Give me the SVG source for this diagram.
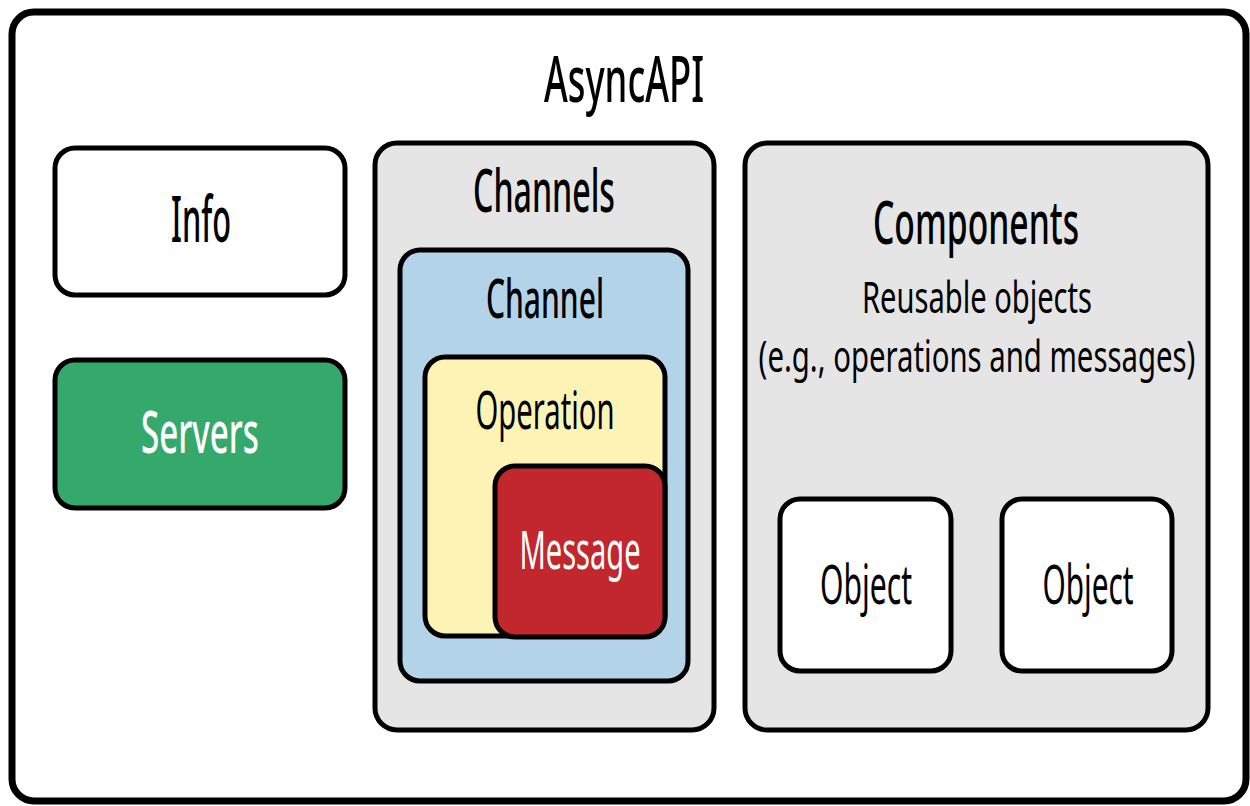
<svg xmlns="http://www.w3.org/2000/svg" width="1250" height="806" viewBox="0 0 1250 806">
<style>
.box{stroke:#000;stroke-width:5}
.t{font-family:"Noto Sans","Liberation Sans",sans-serif;text-anchor:middle;fill:#000}
.b{font-weight:500}
.w{fill:#fff}
</style>
<rect width="1250" height="806" fill="#fff"/>
<g id="asyncapi">
<rect x="12" y="12" width="1234" height="789" rx="22" fill="#fff" stroke="#000" stroke-width="7"/>
<text class="t b" x="624" y="102" font-size="64" textLength="160" lengthAdjust="spacingAndGlyphs">AsyncAPI</text>
</g>
<g id="info">
<rect class="box" x="55" y="148" width="290" height="147" rx="20" fill="#fff"/>
<text class="t b" x="201" y="242" font-size="63" textLength="60" lengthAdjust="spacingAndGlyphs">Info</text>
</g>
<g id="servers">
<rect class="box" x="55" y="360" width="290" height="148" rx="20" fill="#34a96b"/>
<text class="t b w" x="200" y="453" font-size="58" textLength="118" lengthAdjust="spacingAndGlyphs">Servers</text>
</g>
<g id="channels">
<rect class="box" x="375" y="143" width="339" height="587" rx="22" fill="#e5e5e5"/>
<text class="t b" x="544" y="212" font-size="59" textLength="142" lengthAdjust="spacingAndGlyphs">Channels</text>
</g>
<g id="channel">
<rect class="box" x="400" y="250" width="288" height="431" rx="20" fill="#b3d4e8"/>
<text class="t b" x="545" y="318" font-size="55" textLength="118" lengthAdjust="spacingAndGlyphs">Channel</text>
</g>
<g id="operation">
<rect class="box" x="425" y="357" width="240" height="279" rx="20" fill="#fdf3b5"/>
<text class="t" x="545" y="429" font-size="53" textLength="139" lengthAdjust="spacingAndGlyphs">Operation</text>
</g>
<g id="message">
<rect class="box" x="495" y="466" width="170" height="171" rx="20" fill="#c1272d"/>
<text class="t w" x="580" y="569" font-size="53" textLength="121" lengthAdjust="spacingAndGlyphs">Message</text>
</g>
<g id="components">
<rect class="box" x="745" y="143" width="463" height="587" rx="22" fill="#e5e5e5"/>
<text class="t b" x="976" y="244" font-size="59" textLength="206" lengthAdjust="spacingAndGlyphs">Components</text>
<text class="t" transform="translate(977,313) scale(0.65,1)" x="0" y="0" font-size="44" textLength="354" lengthAdjust="spacingAndGlyphs">Reusable objects</text>
<text class="t" transform="translate(977,372) scale(0.6,1)" x="0" y="0" font-size="44" textLength="728" lengthAdjust="spacingAndGlyphs">(e.g., operations and messages)</text>
</g>
<g id="object1">
<rect class="box" x="780" y="499" width="171" height="172" rx="20" fill="#fff"/>
<text class="t" x="866" y="604" font-size="55" textLength="92" lengthAdjust="spacingAndGlyphs">Object</text>
</g>
<g id="object2">
<rect class="box" x="1002" y="499" width="170" height="172" rx="20" fill="#fff"/>
<text class="t" x="1088" y="604" font-size="55" textLength="91" lengthAdjust="spacingAndGlyphs">Object</text>
</g>
<g id="connectors"/>
</svg>
